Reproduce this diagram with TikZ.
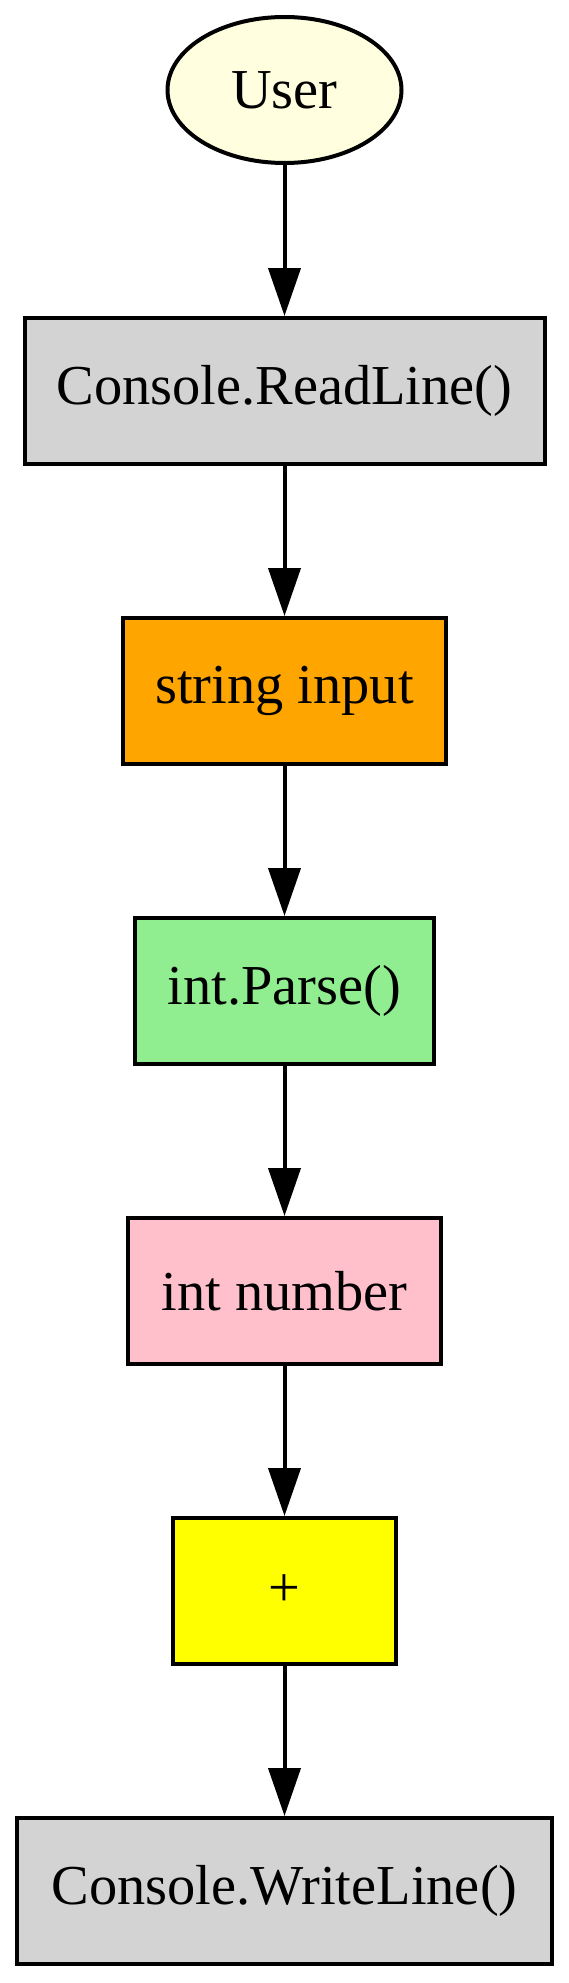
\documentclass[tikz,border=0pt]{standalone}
\usepackage{fontspec}
\setmainfont{Liberation Serif}
\usetikzlibrary{arrows.meta,shapes.geometric}
\definecolor{lightyellowc}{HTML}{FFFFE0}
\definecolor{lightgrayc}{HTML}{D3D3D3}
\definecolor{orangec}{HTML}{FFA500}
\definecolor{lightgreenc}{HTML}{90EE90}
\definecolor{pinkc}{HTML}{FFC0CB}
\definecolor{yellowc}{HTML}{FFFF00}
\begin{document}
\begin{tikzpicture}[x=1pt,y=1pt,
  every node/.style={font=\fontsize{56.4}{60}\selectfont, line width=4pt, draw=black, inner sep=0pt},
  boxnode/.style={rectangle, minimum height=146pt},
  flow/.style={line width=4pt, -{Triangle[length=48pt,width=32pt]}}]
\useasboundingbox (0,0) rectangle (569,-1983);
\node[ellipse, fill=lightyellowc, minimum width=234pt, minimum height=146pt] (user) at (284.5,-90) {User};
\node[boxnode, fill=lightgrayc, minimum width=520pt] (read) at (284.5,-391) {Console.ReadLine()};
\node[boxnode, fill=orangec, minimum width=323pt] (str) at (284.5,-691) {string input};
\node[boxnode, fill=lightgreenc, minimum width=299pt] (parse) at (284.5,-991) {int.Parse()};
\node[boxnode, fill=pinkc, minimum width=313pt] (num) at (284.5,-1291) {int number};
\node[boxnode, fill=yellowc, minimum width=223pt] (plus) at (284.5,-1591) {+};
\node[boxnode, fill=lightgrayc, minimum width=535pt] (write) at (284.5,-1891) {Console.WriteLine()};
\draw[flow] (user) -- (read);
\draw[flow] (read) -- (str);
\draw[flow] (str) -- (parse);
\draw[flow] (parse) -- (num);
\draw[flow] (num) -- (plus);
\draw[flow] (plus) -- (write);
\end{tikzpicture}
\end{document}
